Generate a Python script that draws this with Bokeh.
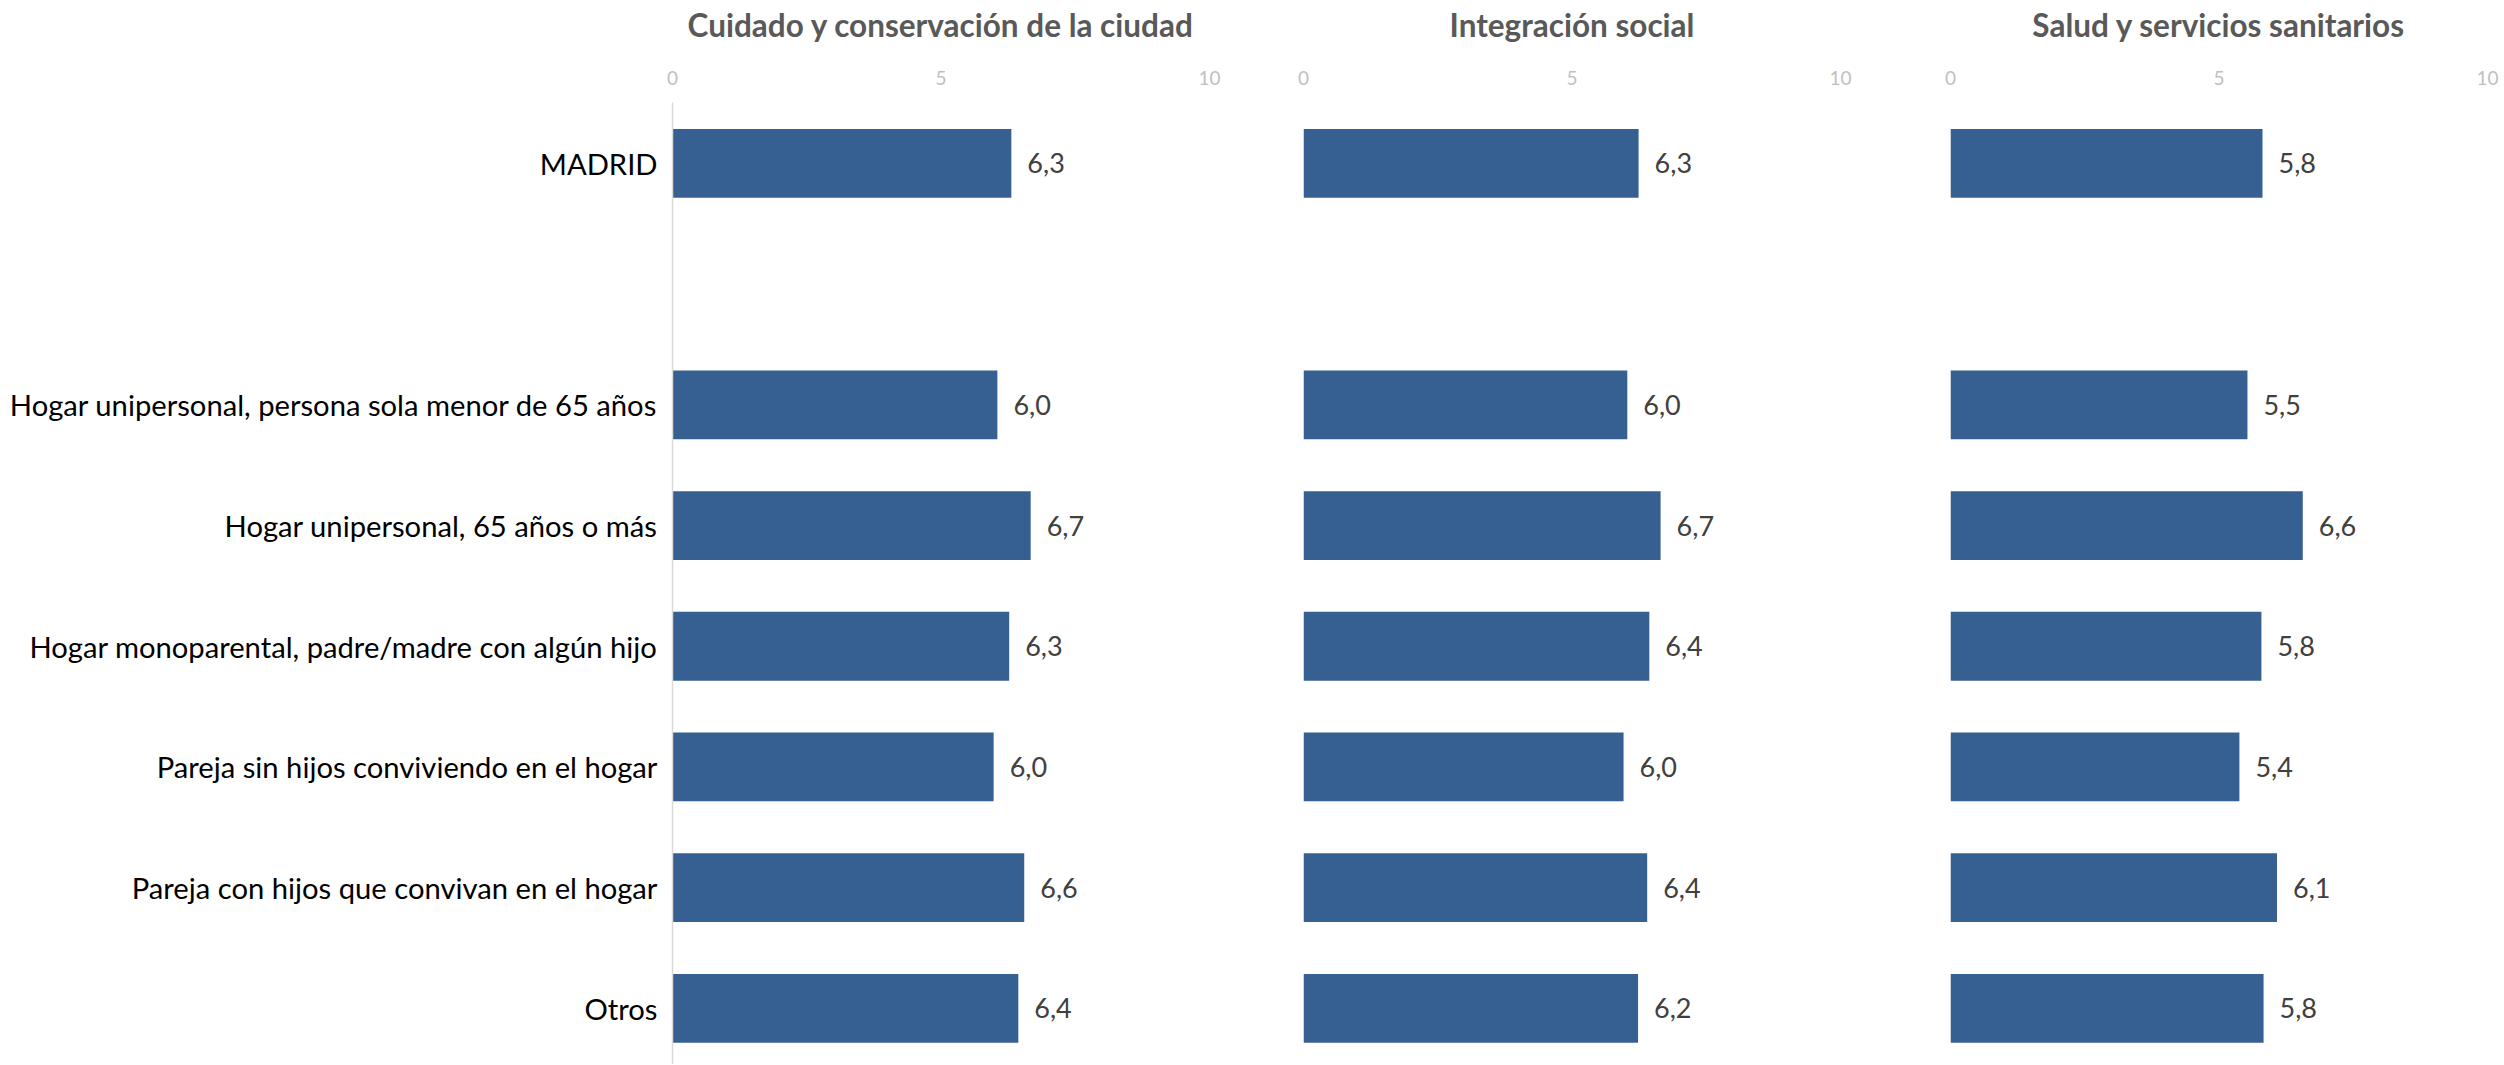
from bokeh.plotting import figure
from bokeh.layouts import row
from bokeh.models import Range1d, FixedTicker, LinearAxis, ColumnDataSource
from bokeh.core.properties import value
from bokeh.embed import file_html
from bokeh.resources import INLINE

# ---- data ----
categories = [
    "MADRID",
    "",
    "Hogar unipersonal, persona sola menor de 65 años",
    "Hogar unipersonal, 65 años o más",
    "Hogar monoparental, padre/madre con algún hijo",
    "Pareja sin hijos conviviendo en el hogar",
    "Pareja con hijos que convivan en el hogar",
    "Otros",
]
panel_titles = [
    "Cuidado y conservación de la ciudad",
    "Integración social",
    "Salud y servicios sanitarios",
]
# bar lengths and the printed labels
cuidado = [6.31, None, 6.05, 6.67, 6.27, 5.98, 6.55, 6.44]
cuidado_labels = ["6,3", "", "6,0", "6,7", "6,3", "6,0", "6,6", "6,4"]
integracion = [6.24, None, 6.03, 6.65, 6.44, 5.96, 6.40, 6.23]
integracion_labels = ["6,3", "", "6,0", "6,7", "6,4", "6,0", "6,4", "6,2"]
salud = [5.81, None, 5.53, 6.56, 5.79, 5.38, 6.08, 5.83]
salud_labels = ["5,8", "", "5,5", "6,6", "5,8", "5,4", "6,1", "5,8"]
x_ticks = [0, 5, 10]

series = [(cuidado, cuidado_labels), (integracion, integracion_labels), (salud, salud_labels)]

BAR = "#366092"
FONT = "Lato"

# layout (px)
frame_w = 537
frame_h = 962
borders = [(672, 47), (47, 55), (55, 16)]


def make_panel(i, vals, labs):
    ys = [k for k, v in enumerate(vals) if v is not None]
    xs = [vals[k] for k in ys]
    labels = [labs[k] for k in ys]
    src = ColumnDataSource(dict(y=ys, v=xs, lab=labels))

    lb, rb = borders[i]
    p = figure(
        frame_width=frame_w,
        frame_height=frame_h,
        x_range=Range1d(0, 10),
        y_range=Range1d(7.465, -0.505),
        x_axis_location=None,
        y_axis_location=None,
        toolbar_location=None,
        output_backend="svg",
        min_border_left=lb,
        min_border_right=rb,
        min_border_top=102,
        min_border_bottom=0,
        outline_line_color=None,
        background_fill_color="white",
        border_fill_color="white",
    )
    p.grid.visible = False

    xa = LinearAxis(
        ticker=FixedTicker(ticks=x_ticks),
        axis_line_color=None,
        major_tick_line_color=None,
        minor_tick_line_color=None,
        major_label_text_font=FONT,
        major_label_text_font_size="19px",
        major_label_text_color="#bfbfbf",
        major_label_standoff=12,
        axis_label=panel_titles[i],
        axis_label_text_font=FONT,
        axis_label_text_font_size="31.5px",
        axis_label_text_font_style="bold",
        axis_label_text_color="#595959",
        axis_label_standoff=24,
    )
    p.add_layout(xa, "above")

    if i == 0:
        ya = LinearAxis(
            ticker=FixedTicker(ticks=[k for k, c in enumerate(categories) if c]),
            major_label_overrides={k: c for k, c in enumerate(categories) if c},
            axis_line_color="#d9d9d9",
            axis_line_width=1.5,
            major_tick_line_color=None,
            minor_tick_line_color=None,
            major_label_text_font=FONT,
            major_label_text_font_size="29.2px",
            major_label_text_color="#000000",
            major_label_standoff=9,
        )
        p.add_layout(ya, "left")

    p.hbar(y="y", left=0, right="v", height=0.57, source=src,
           fill_color=BAR, line_color=None)
    p.text(x="v", y="y", text="lab", source=src, x_offset=16,
           text_baseline="middle", text_align="left",
           text_font=value(FONT), text_font_size="27px", text_color="#404040")
    return p


panels = [make_panel(i, v, l) for i, (v, l) in enumerate(series)]
layout = row(*panels)

open("out.html", "w").write(file_html(layout, INLINE))
